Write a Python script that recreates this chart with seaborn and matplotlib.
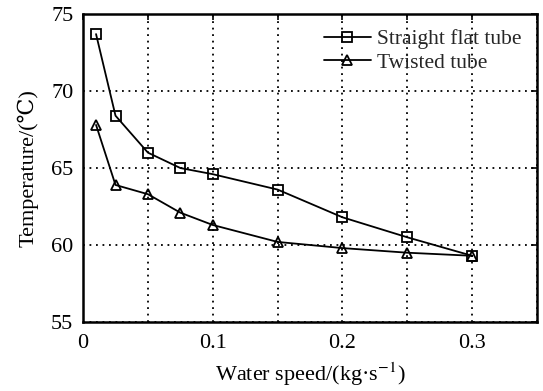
import matplotlib
matplotlib.use("Agg")
import matplotlib.pyplot as plt
import seaborn as sns
import pandas as pd
from matplotlib.ticker import FixedFormatter, FixedLocator

# Water speed (kg/s) and outlet temperature (°C)
speed = [0.01, 0.025, 0.05, 0.075, 0.1, 0.15, 0.2, 0.25, 0.3]
straight_flat = [73.7, 68.4, 66.0, 65.0, 64.6, 63.6, 61.8, 60.5, 59.3]
twisted = [67.8, 63.9, 63.3, 62.1, 61.3, 60.2, 59.8, 59.5, 59.3]
series_names = ["Straight flat tube", "Twisted tube"]
x_tick_labels = ["0", "", "0.1", "", "0.2", "", "0.3", ""]
y_ticks = [55, 60, 65, 70, 75]

df = pd.DataFrame({
    "speed": speed * 2,
    "temp": straight_flat + twisted,
    "tube": [series_names[0]] * len(speed) + [series_names[1]] * len(speed),
})

sns.set_theme(style="white")
plt.rcParams["font.family"] = ["Liberation Serif", "DejaVu Serif"]
plt.rcParams["mathtext.fontset"] = "stix"

fig = plt.figure(figsize=(5.43, 3.91), dpi=100)
ax = fig.add_axes([0.153, 0.1765, 0.836, 0.7875])

sns.lineplot(
    data=df, x="speed", y="temp", hue="tube", style="tube",
    palette=["black", "black"], markers=["s", "^"], dashes=False,
    markersize=7, markerfacecolor="none", markeredgecolor="black",
    markeredgewidth=1.3, linewidth=1.3, ax=ax, legend=True,
)

ax.set_xlim(0, 0.35)
ax.set_ylim(55, 75)
ax.xaxis.set_major_locator(FixedLocator([0, 0.05, 0.1, 0.15, 0.2, 0.25, 0.3, 0.35]))
ax.xaxis.set_major_formatter(FixedFormatter(x_tick_labels))
ax.set_yticks(y_ticks)
ax.grid(True, color="black", linestyle=(0, (1, 2.6)), linewidth=1.3)
ax.tick_params(direction="in", length=4, width=1.2, top=True, right=True,
               labelsize=16, colors="black")
ax.tick_params(axis="x", pad=9)
ax.tick_params(axis="y", pad=7)
for s in ax.spines.values():
    s.set_visible(True)
    s.set_color("black")
    s.set_linewidth(1.8)

ax.set_xlabel("Water speed/(kg·s$^{-1}$)", fontsize=16, color="black", labelpad=5)
ax.set_ylabel("Temperature/(℃)", fontsize=16, color="black", labelpad=9)

leg = ax.legend(loc="upper right", frameon=False, fontsize=15.5,
                handlelength=2.2, handletextpad=0.3, borderaxespad=0.3,
                labelspacing=0.15)

fig.savefig("out.png", dpi=100)
